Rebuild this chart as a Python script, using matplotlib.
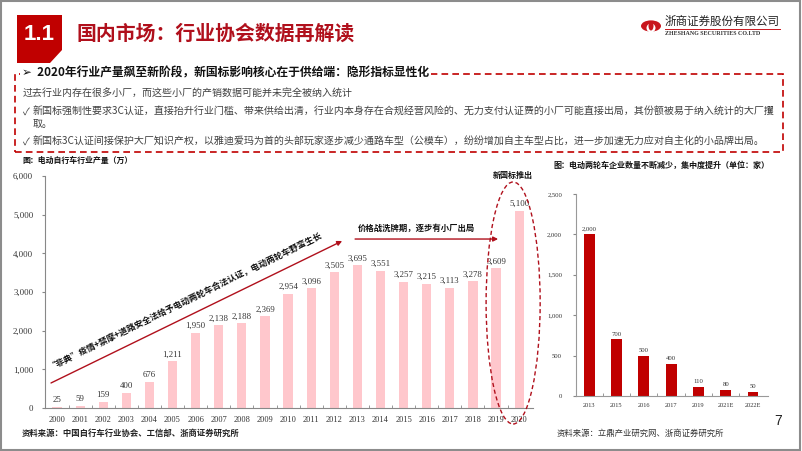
import matplotlib
matplotlib.use('Agg')
import matplotlib.pyplot as plt
from matplotlib.patches import Rectangle, Polygon, Ellipse, Circle
import numpy as np

plt.rcParams['font.family'] = ['Noto Sans CJK SC', 'DejaVu Sans']

# data
years = [str(y) for y in range(2000, 2021)]
output = [25, 59, 159, 400, 676, 1211, 1950, 2138, 2188, 2369, 2954,
          3096, 3505, 3695, 3551, 3257, 3215, 3113, 3278, 3609, 5100]
firm_years = ['2013', '2015', '2016', '2017', '2019', '2021E', '2022E']
firm_counts = [2000, 700, 500, 400, 110, 80, 50]

W, H = 802, 451
RED = '#C00000'
PINK = '#FFC7CC'
SERIF = 'Liberation Serif'


def fx(x):
    return x / W


def fy(y):
    return 1 - y / H


fig = plt.figure(figsize=(W / 100, H / 100), dpi=100)

# slide border
fig.patches.append(Rectangle((0.001, 0.002), 0.997, 0.995, transform=fig.transFigure,
                             fill=False, edgecolor='#8C8C8C', lw=1.5))

# title block
box = Polygon([(fx(17), fy(15)), (fx(62), fy(15)), (fx(62), fy(50)),
               (fx(50), fy(63)), (fx(17), fy(63))], closed=True,
              transform=fig.transFigure, facecolor=RED, edgecolor='none')
fig.patches.append(box)
fig.text(fx(39), fy(34), '1.1', color='white', fontsize=16, fontweight='bold',
         family='Liberation Sans', ha='center', va='center')
fig.text(fx(77), fy(33), '国内市场：行业协会数据再解读', color='#B0101C', fontsize=14.3,
         fontweight='bold', ha='left', va='center')

# logo
fig.patches.append(Circle((fx(651), fy(26)), 10 / W, transform=fig.transFigure,
                          facecolor='#C8161D', edgecolor='none'))
fig.patches.append(Ellipse((fx(651), fy(28)), 9 / W, 9 / H, transform=fig.transFigure,
                           facecolor='white', edgecolor='none'))
fig.patches.append(Ellipse((fx(651), fy(26)), 5 / W, 9 / H, transform=fig.transFigure,
                           facecolor='#C8161D', edgecolor='none'))
fig.text(fx(665), fy(21), '浙商证券股份有限公司', fontsize=8.3, color='#222222',
         ha='left', va='center')
fig.lines.append(plt.Line2D([fx(665), fx(780)], [fy(28.5), fy(28.5)],
                            transform=fig.transFigure, color='#C8161D', lw=0.7))
fig.text(fx(665), fy(33.5), 'ZHESHANG SECURITIES CO.LTD', fontsize=4.3, color='#333333',
         family=SERIF, fontweight='bold', ha='left', va='center')

# dashed summary box
fig.patches.append(Rectangle((fx(15), fy(152)), fx(783) - fx(15), fy(74) - fy(152),
                             transform=fig.transFigure, fill=False, edgecolor=RED,
                             lw=1.2, ls=(0, (4, 2.5))))
fig.text(fx(22), fy(73), '➢  2020年行业产量飙至新阶段，新国标影响核心在于供给端：隐形指标显性化',
         fontsize=8.5, fontweight='bold', color='#111111', ha='left', va='center',
         bbox=dict(facecolor='white', edgecolor='none', pad=1.5))
fig.text(fx(23), fy(93), '过去行业内存在很多小厂，而这些小厂的产销数据可能并未完全被纳入统计',
         fontsize=7.2, color='#404040', ha='left', va='center')
fig.text(fx(23), fy(112), '✓', fontsize=7.2, color='#404040', ha='left', va='center')
fig.text(fx(33), fy(112), '新国标强制性要求3C认证，直接抬升行业门槛、带来供给出清，行业内本身存在合规经营风险的、'
         '无力支付认证费的小厂可能直接出局，其份额被易于纳入统计的大厂攫',
         fontsize=7.2, color='#404040', ha='left', va='center')
fig.text(fx(33), fy(124), '取。', fontsize=7.2, color='#404040', ha='left', va='center')
fig.text(fx(23), fy(142), '✓', fontsize=7.2, color='#404040', ha='left', va='center')
fig.text(fx(33), fy(142), '新国标3C认证间接保护大厂知识产权，以雅迪爱玛为首的头部玩家逐步减少通路车型（公模车），'
         '纷纷增加自主车型占比，进一步加速无力应对自主化的小品牌出局。',
         fontsize=7.2, color='#404040', ha='left', va='center')

# left chart
fig.text(fx(22), fy(160), '图：电动自行车行业产量（万）', fontsize=5.7, fontweight='bold',
         color='#111111', ha='left', va='center')
ax = fig.add_axes([fx(45), fy(408), (533 - 45) / W, (408 - 176) / H])
x = np.arange(len(years))
ax.bar(x, output, width=0.4, color=PINK, zorder=2)
for xi, v in zip(x, output):
    ax.annotate(f'{v:,}', (xi, v), xytext=(0, 2), textcoords='offset points',
                ha='center', va='bottom', fontsize=6.3, family=SERIF, color='#333333')
ax.set_xlim(-0.52, 20.6)
ax.set_ylim(0, 6000)
ax.set_yticks(range(0, 6001, 1000))
ax.set_yticklabels([f'{t:,}' for t in range(0, 6001, 1000)], family=SERIF, fontsize=6.3,
                   color='#333333')
ax.set_xticks(x)
ax.set_xticklabels(years, family=SERIF, fontsize=6, color='#333333')
ax.set_xticks(x[:-1] + 0.5, minor=True)
ax.tick_params(axis='x', which='major', length=0, pad=6)
ax.tick_params(axis='x', which='minor', length=2.5, direction='in', color='#888888')
ax.tick_params(axis='y', length=2.5, color='#888888', pad=6)
for s in ['top', 'right']:
    ax.spines[s].set_visible(False)
for s in ['left', 'bottom']:
    ax.spines[s].set_color('#888888')
    ax.spines[s].set_linewidth(0.8)

ax.annotate('', xy=(12.34, 4319), xytext=(-0.26, 647),
            arrowprops=dict(arrowstyle='-|>', color='#B0101C', lw=1.0,
                            mutation_scale=7, shrinkA=0, shrinkB=0),
            annotation_clip=False)
ax.text(5.54, 2793, '“非典”疫情+禁摩+道路安全法给予电动两轮车合法认证，电动两轮车野蛮生长',
        rotation=26, rotation_mode='anchor', ha='center', va='center', fontsize=6.2,
        fontweight='bold', color='#111111')
ax.annotate('', xy=(19.09, 4370), xytext=(12.9, 4370),
            arrowprops=dict(arrowstyle='-|>', color='#B0101C', lw=1.0,
                            mutation_scale=7, shrinkA=0, shrinkB=0),
            annotation_clip=False)
ax.text(15.54, 4655, '价格战洗牌期，逐步有小厂出局', ha='center', va='center', fontsize=6,
        fontweight='bold', color='#111111')
ax.add_patch(Ellipse((19.74, 2716), 2.34, 6259, fill=False, edgecolor='#B0101C', lw=1.0,
                     ls=(0, (3, 2)), clip_on=False, zorder=3))
ax.text(19.74, 6026, '新国标推出', ha='center', va='center', fontsize=5.8,
        fontweight='bold', color='#111111', clip_on=False)

fig.text(fx(22), fy(433), '资料来源：中国自行车行业协会、工信部、浙商证券研究所', fontsize=6,
         fontweight='bold', color='#222222', ha='left', va='center')

# right chart
fig.text(fx(553), fy(165), '图：电动两轮车企业数量不断减少，集中度提升（单位：家）', fontsize=5.8,
         fontweight='bold', color='#111111', ha='left', va='center')
ax2 = fig.add_axes([fx(576), fy(396), (768 - 576) / W, (396 - 194) / H])
x2 = np.arange(len(firm_years))
ax2.bar(x2, firm_counts, width=0.4, color=RED, zorder=2)
for xi, v in zip(x2, firm_counts):
    ax2.annotate(f'{v:,}', (xi, v), xytext=(0, 2), textcoords='offset points',
                 ha='center', va='bottom', fontsize=4.8, family=SERIF, color='#333333')
ax2.set_xlim(-0.48, 6.55)
ax2.set_ylim(0, 2500)
ax2.set_yticks(range(0, 2501, 500))
ax2.set_yticklabels([f'{t:,}' for t in range(0, 2501, 500)], family=SERIF, fontsize=4.8,
                    color='#333333')
ax2.set_xticks(x2)
ax2.set_xticklabels(firm_years, family=SERIF, fontsize=4.6, color='#333333')
ax2.set_xticks(x2[:-1] + 0.5, minor=True)
ax2.tick_params(axis='x', which='major', length=0, pad=5)
ax2.tick_params(axis='x', which='minor', length=2, direction='in', color='#888888')
ax2.tick_params(axis='y', length=2, color='#888888', pad=8)
for s in ['top', 'right']:
    ax2.spines[s].set_visible(False)
for s in ['left', 'bottom']:
    ax2.spines[s].set_color('#999999')
    ax2.spines[s].set_linewidth(0.8)

fig.text(fx(778), fy(421), '7', fontsize=10, color='#222222', family='Liberation Sans',
         ha='center', va='center')
fig.text(fx(557), fy(433), '资料来源：立鼎产业研究网、浙商证券研究所', fontsize=6,
         color='#333333', ha='left', va='center')

fig.savefig('out.png', dpi=100)
